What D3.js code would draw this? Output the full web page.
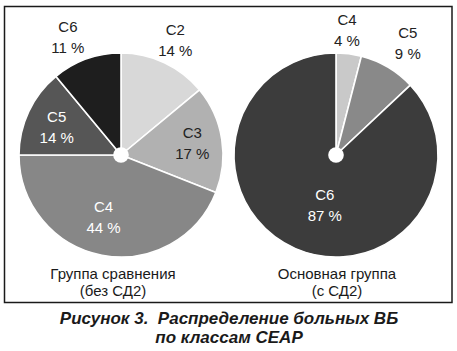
<!DOCTYPE html>
<html>
<head>
<meta charset="utf-8">
<script src="https://cdn.jsdelivr.net/npm/d3@7"></script>
<style>
  body { margin: 0; background: #fff; }
  svg text { font-family: "Liberation Sans", Arial, sans-serif; }
</style>
</head>
<body>
<svg id="chart" width="457" height="351"></svg>
<script>
// data
let left_classes = ["C2", "C3", "C4", "C5", "C6"];
let left_values = [14, 17, 44, 14, 11];
let left_colors = ["#d8d8d8", "#b1b1b1", "#878787", "#565656", "#1e1e1e"];
let left_text = ["#222", "#222", "#fff", "#fff", "#222"];
let left_title = ["Группа сравнения", "(без СД2)"];

let right_classes = ["C4", "C5", "C6"];
let right_values = [4, 9, 87];
let right_colors = ["#c9c9c9", "#898989", "#3c3c3c"];
let right_text = ["#222", "#222", "#fff"];
let right_title = ["Основная группа", "(с СД2)"];

let caption = ["Рисунок 3.  Распределение больных ВБ", "по классам CEAP"];

// label placement per slice: [radius factor, angle in degrees]
let left_label_pos = [[1.26, 25], [0.71, 80], [0.62, 196], [0.69, 294], [1.28, 336]];
let right_label_pos = [[1.24, 5], [1.31, 32.5], [0.49, 193]];

let svg = d3.select("#chart");

// frame
svg.append("rect")
  .attr("x", 4.5).attr("y", 6.5)
  .attr("width", 447.5).attr("height", 296)
  .attr("fill", "none").attr("stroke", "#1a1a1a").attr("stroke-width", 1.5);

let radius = 102;

function draw_pie(cx, cy, classes, values, colors, text_colors, label_pos, title, title_dx){
  let g = svg.append("g").attr("transform", "translate(" + cx + "," + cy + ")");
  let pie = d3.pie().sort(null).value(d => d.v);
  let data = classes.map((c, i) => ({c: c, v: values[i], col: colors[i], tc: text_colors[i], lp: label_pos[i]}));
  let arcs = pie(data);
  let arc = d3.arc().innerRadius(0).outerRadius(radius);

  g.selectAll(".slice").data(arcs).enter().append("path")
    .attr("class", "slice")
    .attr("d", arc)
    .attr("fill", d => d.data.col)
    .attr("stroke", "#fff").attr("stroke-width", 1.6).attr("stroke-linejoin", "round");

  g.append("circle").attr("r", 7.8).attr("fill", "#fff");

  let labels = g.selectAll(".lbl").data(arcs).enter().append("g").attr("class", "lbl")
    .attr("transform", d => {
      let a = d.data.lp[1] * Math.PI / 180;
      let r = radius * d.data.lp[0];
      return "translate(" + (Math.sin(a) * r) + "," + (-Math.cos(a) * r) + ")";
    });
  labels.append("text").attr("text-anchor", "middle").attr("y", -4)
    .attr("font-size", 15).attr("fill", d => d.data.tc).text(d => d.data.c);
  labels.append("text").attr("text-anchor", "middle").attr("y", 17)
    .attr("font-size", 15).attr("fill", d => d.data.tc).text(d => d.data.v + " %");

  g.selectAll(".title").data(title).enter().append("text")
    .attr("text-anchor", "middle")
    .attr("x", title_dx)
    .attr("y", (d, i) => radius + 22 + i * 17)
    .attr("font-size", 15).attr("fill", "#1a1a1a")
    .text(d => d);
}

draw_pie(121, 155, left_classes, left_values, left_colors, left_text, left_label_pos, left_title, -8);
draw_pie(336, 155, right_classes, right_values, right_colors, right_text, right_label_pos, right_title, 1);

svg.selectAll(".caption").data(caption).enter().append("text")
  .attr("text-anchor", "middle")
  .attr("x", 229).attr("y", (d, i) => 324 + i * 19)
  .attr("font-size", 17).attr("font-weight", "bold").attr("font-style", "italic")
  .attr("fill", "#1a1a1a")
  .attr("xml:space", "preserve").style("white-space", "pre")
  .text(d => d);
</script>
</body>
</html>
